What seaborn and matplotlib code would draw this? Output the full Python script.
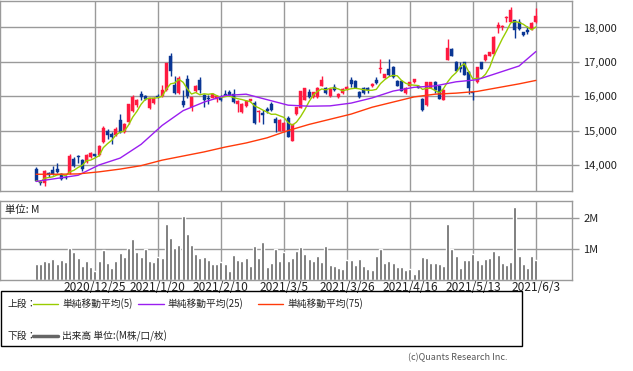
import matplotlib
matplotlib.use("Agg")
import matplotlib.pyplot as plt
from matplotlib.patches import Rectangle
from matplotlib.lines import Line2D
import seaborn as sns
import pandas as pd
import numpy as np

# 日足 (2020/12/7 - 2021/6/3), 120 trading days
opens = [13880, 13500, 13480, 13760, 13850, 13890, 13740, 13660, 13760, 14160,
         14260, 14130, 14100, 14220, 14310, 14290, 14670, 14990, 14900, 14860,
         15300, 14960, 15250, 15560, 15740, 16070, 16000, 15660, 15800, 16020,
         16000, 16170, 17160, 16340, 16090, 15860, 16490, 15690, 16140, 16460,
         16030, 15960, 15960, 15930, 15960, 16070, 16130, 16070, 15760, 15540,
         15710, 15860, 15810, 15540, 15520, 15640, 15780, 15350, 14990, 14990,
         15380, 14700, 15480, 15670, 15900, 16120, 15980, 15980, 16310, 16230,
         16000, 16270, 15980, 16090, 16220, 16470, 16440, 16120, 16240, 16240,
         16300, 16480, 16800, 16540, 16800, 16860, 16440, 16440, 16090, 16310,
         16410, 16310, 15930, 15740, 16250, 16410, 16310, 15900, 17060, 17370,
         17010, 16840, 16990, 16700, 16120, 16410, 16990, 17040, 17180, 17230,
         17980, 18000, 18270, 18170, 18210, 18150, 17860, 17920, 17950, 18150]
highs = [13930, 13560, 13840, 13790, 13980, 14050, 13780, 13700, 14310, 14240,
         14290, 14160, 14310, 14380, 14330, 14570, 15130, 15050, 14950, 15100,
         15480, 15230, 15780, 16040, 15920, 16150, 16050, 15950, 15980, 16060,
         16320, 16970, 17250, 16600, 16580, 16170, 16630, 15990, 16330, 16560,
         16060, 16030, 16100, 16040, 16030, 16190, 16170, 16220, 15900, 15800,
         15880, 15930, 15850, 15600, 15600, 15700, 15830, 15400, 15340, 15250,
         15430, 15200, 15700, 16150, 16240, 16200, 16130, 16260, 16600, 16270,
         16240, 16360, 16090, 16230, 16300, 16570, 16460, 16150, 16270, 16280,
         16380, 16550, 17080, 16660, 17080, 16880, 16460, 16460, 16260, 16420,
         16510, 16330, 15950, 16420, 16420, 16440, 16330, 16200, 17660, 17390,
         17030, 17000, 17010, 16720, 16150, 16860, 17010, 17230, 17300, 17750,
         18150, 18060, 18330, 18600, 18230, 18250, 17880, 18050, 18170, 18560]
lows = [13520, 13420, 13400, 13650, 13710, 13770, 13560, 13580, 13740, 13940,
        14050, 13810, 14060, 14200, 14230, 14270, 14650, 14760, 14610, 14840,
        14930, 14940, 15180, 15540, 15700, 15900, 15880, 15620, 15780, 15950,
        15970, 16150, 16600, 16070, 16070, 15700, 15950, 15570, 16120, 16090,
        15690, 15770, 15940, 15830, 15850, 16000, 16020, 15800, 15540, 15520,
        15690, 15840, 15180, 15250, 15200, 15500, 15560, 14960, 14980, 14960,
        14800, 14690, 15460, 15650, 15880, 15960, 15960, 15960, 16290, 16060,
        15970, 16160, 15960, 16060, 16190, 16280, 16230, 15950, 16070, 16090,
        16280, 16360, 16670, 16520, 16600, 16540, 16300, 16140, 16070, 16290,
        16390, 16240, 15580, 15720, 16230, 16090, 15920, 15880, 17040, 17170,
        16720, 16700, 16620, 16070, 15900, 16390, 16780, 17020, 17160, 17210,
        17850, 17920, 18150, 18150, 17690, 17930, 17750, 17800, 17930, 18130]
closes = [13540, 13470, 13830, 13700, 13740, 13800, 13580, 13610, 14260, 13970,
          14220, 13890, 14290, 14340, 14270, 14550, 15070, 14870, 14820, 15060,
          14960, 15200, 15760, 15980, 15900, 15990, 15920, 15940, 15960, 15990,
          16170, 16960, 16720, 16090, 16520, 15740, 16000, 15970, 16310, 16190,
          15880, 15930, 16070, 16020, 15900, 16020, 16040, 15830, 15850, 15780,
          15850, 15910, 15210, 15560, 15450, 15560, 15590, 15230, 15320, 15220,
          14820, 15190, 15690, 16140, 16230, 15980, 16120, 16250, 16480, 16100,
          16220, 16180, 16070, 16210, 16280, 16350, 16250, 15980, 16090, 16190,
          16360, 16380, 16820, 16650, 16630, 16560, 16310, 16150, 16240, 16410,
          16500, 16250, 15590, 16410, 16410, 16170, 15930, 16190, 17400, 17180,
          16730, 16800, 16630, 16250, 16090, 16840, 16800, 17210, 17280, 17730,
          18080, 18050, 18310, 18500, 17920, 17950, 17790, 17880, 18120, 18340]

# 出来高 (M)
volume = [0.53, 0.53, 0.62, 0.59, 0.69, 0.53, 0.66, 0.57, 1.04, 0.89,
          0.72, 0.46, 0.62, 0.43, 0.28, 0.62, 0.98, 0.56, 0.40, 0.62,
          0.88, 0.75, 1.04, 1.33, 0.91, 0.75, 1.01, 0.62, 0.59, 0.75,
          0.72, 1.82, 1.37, 1.04, 1.14, 2.08, 1.49, 1.14, 0.85, 0.72,
          0.75, 0.66, 0.53, 0.53, 0.59, 0.53, 0.30, 0.82, 0.66, 0.62,
          0.72, 0.46, 1.11, 0.72, 1.24, 0.43, 0.56, 1.01, 0.62, 0.91,
          0.62, 0.72, 0.95, 1.08, 0.85, 0.69, 0.62, 0.78, 0.59, 1.11,
          0.49, 0.46, 0.40, 0.37, 0.66, 0.66, 0.49, 0.69, 0.46, 0.37,
          0.33, 0.78, 1.01, 0.56, 0.62, 0.56, 0.43, 0.43, 0.33, 0.37,
          0.20, 0.37, 0.75, 0.72, 0.56, 0.56, 0.53, 0.46, 1.82, 1.01,
          0.78, 0.40, 0.66, 0.66, 0.85, 0.66, 0.53, 0.69, 0.72, 0.95,
          0.82, 0.56, 0.49, 0.59, 2.37, 0.78, 0.53, 0.40, 0.78, 0.66]

# 25日 / 75日 移動平均 (read every 5 days)
ma_days = [0, 5, 10, 15, 20, 25, 30, 35, 40, 45, 50, 55, 60, 65, 70, 75, 80,
           85, 90, 95, 100, 105, 110, 115, 119]
ma25 = [13520, 13610, 13700, 14000, 14200, 14600, 15150, 15580, 15830, 16020,
        16060, 15900, 15740, 15710, 15720, 15800, 15950, 16150, 16260, 16300,
        16420, 16480, 16680, 16880, 17300]
ma75 = [13730, 13730, 13740, 13800, 13880, 13980, 14140, 14260, 14380, 14520,
        14640, 14790, 15000, 15180, 15330, 15480, 15680, 15830, 15980, 16060,
        16090, 16140, 16250, 16360, 16460]

tick_days = [14, 29, 44, 59, 74, 89, 104, 119]
tick_labels = ["2020/12/25", "2021/1/20", "2021/2/10", "2021/3/5",
               "2021/3/26", "2021/4/16", "2021/5/13", "2021/6/3"]

sns.set_style("white")
plt.rcParams['font.family'] = ['Noto Sans CJK JP', 'DejaVu Sans']

W, H = 633, 371
fig = plt.figure(figsize=(6.33, 3.71), dpi=100)
ax = fig.add_axes([0, (H - 190.5) / H, 572 / W, 189.5 / H])
vax = fig.add_axes([0, (H - 280) / H, 572 / W, 79 / H])

days = np.arange(len(closes))
o = np.array(opens)
c = np.array(closes)
up = c >= o
cols = np.where(up, "#ff1a40", "#0a3694")
grid_col = "#9a9a9a"

# candles
ax.vlines(days, lows, highs, colors=cols, lw=1, zorder=2)
ax.bar(days, np.abs(c - o), bottom=np.minimum(o, c), width=0.72, color=cols,
       edgecolor=cols, linewidth=0.3, zorder=2)

# moving averages
ma5 = pd.Series(closes).rolling(5, min_periods=1).mean()
sns.lineplot(x=days, y=ma5, ax=ax, color="#99cc00", lw=1, zorder=3)
sns.lineplot(x=ma_days, y=ma25, ax=ax, color="#9a1ef0", lw=1, zorder=3)
sns.lineplot(x=ma_days, y=ma75, ax=ax, color="#ff3a0a", lw=1, zorder=3)

xmin, xmax = -8.6, 127.6
ax.set_xlim(xmin, xmax)
ax.set_ylim(13257, 18771)
ax.set_xticks(tick_days)
ax.set_xticklabels([])
ax.set_yticks([14000, 15000, 16000, 17000, 18000])
ax.set_yticklabels(["{:,}".format(v) for v in [14000, 15000, 16000, 17000, 18000]])
ax.yaxis.tick_right()
ax.tick_params(axis="y", length=5, width=1, color=grid_col, labelsize=8,
               pad=3, labelcolor="#222222")
ax.tick_params(axis="x", length=0)
ax.grid(True, color=grid_col, lw=1)
ax.set_axisbelow(True)
ax.set_xlabel("")
ax.set_ylabel("")

# volume
vax.bar(days, volume, width=0.68, color="#666666", zorder=2)
vax.set_xlim(xmin, xmax)
vax.set_ylim(0, 2.55)
vax.set_yticks([1, 2])
vax.set_yticklabels(["1M", "2M"])
vax.yaxis.tick_right()
vax.tick_params(axis="y", length=5, width=1, color=grid_col, labelsize=8,
                pad=3, labelcolor="#222222")
vax.set_xticks(tick_days)
vax.set_xticklabels(tick_labels)
vax.tick_params(axis="x", length=0, labelsize=8.6, pad=1, labelcolor="#222222")
vax.grid(True, color=grid_col, lw=1)
vax.set_axisbelow(True)

for a in (ax, vax):
    for s in a.spines.values():
        s.set_color(grid_col)
        s.set_linewidth(1)

fig.text(5 / W, 1 - 210 / H, "単位: M", fontsize=7.5, va="center", ha="left",
         color="#222222")

# legend box
fig.patches.append(Rectangle((0.5 / W, 1 - 346 / H), 521.5 / W, 55 / H,
                             transform=fig.transFigure, fill=False,
                             edgecolor="#000000", lw=1))
y1 = 1 - 303.5 / H
y2 = 1 - 336 / H
fig.text(7 / W, y1, "上段：", fontsize=7, va="center", color="#222222")
fig.text(7 / W, y2, "下段：", fontsize=7, va="center", color="#222222")
legend_items = [(33, 58, 62, "#99cc00", "単純移動平均(5)"),
                (138, 164, 167, "#9a1ef0", "単純移動平均(25)"),
                (258, 283, 287, "#ff3a0a", "単純移動平均(75)")]
for x0, x1, xt, col, label in legend_items:
    fig.lines.append(Line2D([x0 / W, x1 / W], [y1, y1], transform=fig.transFigure,
                            color=col, lw=1))
    fig.text(xt / W, y1, label, fontsize=7, va="center", color="#222222")
fig.lines.append(Line2D([33 / W, 58 / W], [y2, y2], transform=fig.transFigure,
                        color="#666666", lw=2.5))
fig.text(62 / W, y2, "出来高 単位:(M株/口/枚)", fontsize=7, va="center",
         color="#222222")

fig.text(507 / W, 1 - 358 / H, "(c)Quants Research Inc.", fontsize=6.5,
         ha="right", va="center", color="#555555")

fig.savefig("out.png", dpi=100)
